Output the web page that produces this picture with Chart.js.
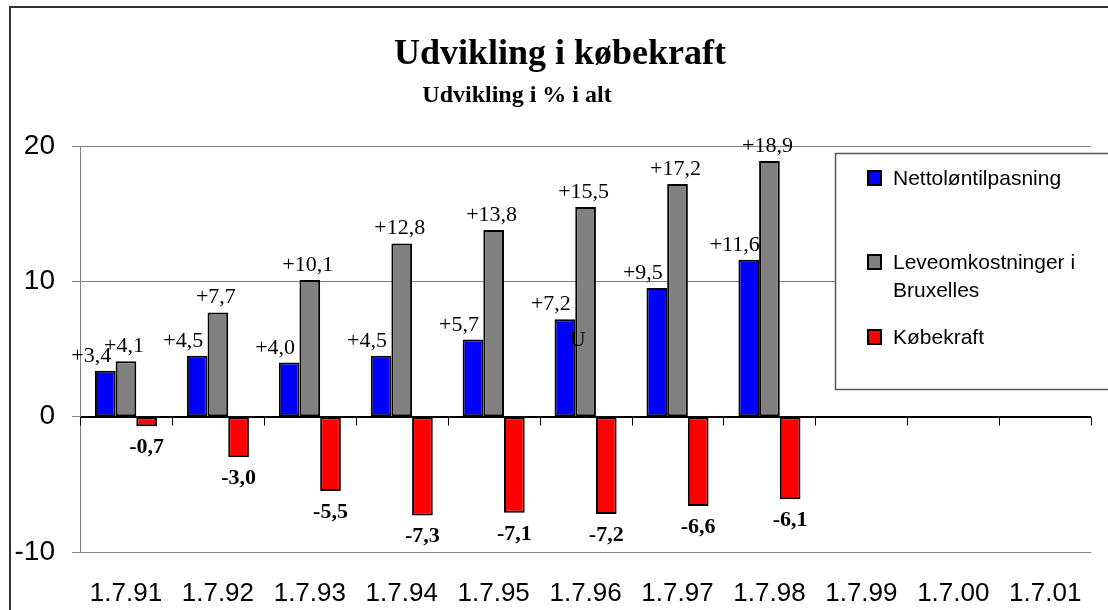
<!DOCTYPE html>
<html>
<head>
<meta charset="utf-8">
<title>Udvikling i købekraft</title>
<script src="https://cdn.jsdelivr.net/npm/chart.js@4.4.1/dist/chart.umd.min.js"></script>
<style>
  html, body { margin: 0; padding: 0; background: #fff; overflow: hidden; }
  #wrap { width: 1108px; height: 610px; }
</style>
</head>
<body>
<div id="wrap"><canvas id="graf" width="1108" height="610"></canvas></div>
<script>
// data
const kategorier = ['1.7.91', '1.7.92', '1.7.93', '1.7.94', '1.7.95', '1.7.96', '1.7.97', '1.7.98', '1.7.99', '1.7.00', '1.7.01'];
const nettolon = [3.4, 4.5, 4.0, 4.5, 5.7, 7.2, 9.5, 11.6, null, null, null];
const leveomk = [4.1, 7.7, 10.1, 12.8, 13.8, 15.5, 17.2, 18.9, null, null, null];
const kobekraft = [-0.7, -3.0, -5.5, -7.3, -7.1, -7.2, -6.6, -6.1, null, null, null];
const serieNavne = ['Nettoløntilpasning', 'Leveomkostninger i Bruxelles', 'Købekraft'];
const yMin = -10, yMax = 20, yStep = 10;
const titel = 'Udvikling i købekraft';
const undertitel = 'Udvikling i % i alt';
const loesMaerke = { kategori: '1.7.96', vaerdi: 5.8, tekst: 'U' };

const SANS = '"Liberation Sans", Arial, sans-serif';
const SERIF = '"Liberation Serif", "Times New Roman", serif';

function fmt(v) {
    const s = Math.abs(v).toFixed(1).replace('.', ',');
    return (v < 0 ? '-' : '+') + s;
}

// titel + ramme
const rammePlugin = {
    id: 'ramme',
    afterDraw(chart) {
        const ctx = chart.ctx;
        ctx.save();
        ctx.strokeStyle = '#333';
        ctx.lineWidth = 2;
        ctx.strokeRect(10, 7, 1120, 640);
        ctx.fillStyle = '#000';
        ctx.textAlign = 'center';
        ctx.textBaseline = 'alphabetic';
        ctx.font = 'bold 36px ' + SERIF;
        ctx.fillText(titel, 560, 64);
        ctx.font = 'bold 24px ' + SERIF;
        ctx.fillText(undertitel, 517, 102);
        ctx.restore();
    }
};

// små streger under 0-linjen ved kategorigrænser
const akseStreger = {
    id: 'akseStreger',
    afterDatasetsDraw(chart) {
        const x = chart.scales.x, y = chart.scales.y;
        const ctx = chart.ctx;
        const y0 = Math.round(y.getPixelForValue(0)) + 0.5;
        const bredde = x.width / kategorier.length;
        ctx.save();
        ctx.strokeStyle = '#000';
        ctx.lineWidth = 1;
        ctx.beginPath();
        ctx.moveTo(x.left, y0);
        ctx.lineTo(x.right, y0);
        for (let i = 0; i <= kategorier.length; i++) {
            const px = Math.round(x.left + i * bredde) + 0.5;
            ctx.moveTo(px, y0);
            ctx.lineTo(px, y0 + 8);
        }
        ctx.stroke();
        ctx.restore();
    }
};

// værdietiketter
const etiketter = {
    id: 'etiketter',
    afterDatasetsDraw(chart) {
        const ctx = chart.ctx;
        ctx.save();
        ctx.fillStyle = '#000';
        ctx.textAlign = 'center';
        ctx.textBaseline = 'alphabetic';
        chart.data.datasets.forEach((ds, di) => {
            const meta = chart.getDatasetMeta(di);
            ctx.font = (ds.labelBold ? 'bold ' : '') + '22px ' + SERIF;
            meta.data.forEach((el, i) => {
                const v = ds.data[i];
                if (v === null || v === undefined) return;
                const px = el.x + (ds.labelDx || 0);
                const py = v >= 0 ? el.y - 9 : el.y + 27;
                ctx.fillText(fmt(v), px, py);
            });
        });
        // løst tegn fra originalen
        const xs = chart.scales.x, ys = chart.scales.y;
        ctx.font = '22px ' + SERIF;
        ctx.fillText(loesMaerke.tekst, xs.getPixelForValue(kategorier.indexOf(loesMaerke.kategori)) - 8,
            ys.getPixelForValue(loesMaerke.vaerdi) + 8);
        ctx.restore();
    }
};

// forklaring i boks
const forklaring = {
    id: 'forklaring',
    afterDraw(chart) {
        const ctx = chart.ctx;
        const boksX = 835.5, boksY = 153.5;
        ctx.save();
        ctx.fillStyle = '#fff';
        ctx.fillRect(boksX, boksY, 300, 236);
        ctx.strokeStyle = '#555';
        ctx.lineWidth = 1.5;
        ctx.strokeRect(boksX, boksY, 300, 236);

        const linjeY = [178, 262, 337];
        ctx.font = '21px ' + SANS;
        ctx.textBaseline = 'middle';
        ctx.textAlign = 'left';
        chart.data.datasets.forEach((ds, i) => {
            const y = linjeY[i];
            ctx.fillStyle = ds.backgroundColor;
            ctx.fillRect(868, y - 7, 13, 14);
            ctx.strokeStyle = '#000';
            ctx.lineWidth = 2;
            ctx.strokeRect(868, y - 7, 13, 14);
            // ombryd teksten
            const ord = ds.label.split(' ');
            const linjer = [];
            let cur = '';
            ord.forEach(w => {
                const test = cur ? cur + ' ' + w : w;
                if (ctx.measureText(test).width > 195 && cur) {
                    linjer.push(cur);
                    cur = w;
                } else {
                    cur = test;
                }
            });
            linjer.push(cur);
            ctx.fillStyle = '#000';
            linjer.forEach((l, k) => ctx.fillText(l, 893, y + 1 + k * 28));
        });
        ctx.restore();
    }
};

const ctx = document.getElementById('graf').getContext('2d');
const chart = new Chart(ctx, {
    type: 'bar',
    data: {
        labels: kategorier,
        datasets: [
            { label: serieNavne[0], data: nettolon, backgroundColor: '#0000FF', labelDx: -14 },
            { label: serieNavne[1], data: leveomk, backgroundColor: '#808080', labelDx: -2 },
            { label: serieNavne[2], data: kobekraft, backgroundColor: '#FF0000', labelDx: 0, labelBold: true }
        ]
    },
    options: {
        responsive: false,
        animation: false,
        devicePixelRatio: 1,
        layout: { padding: { top: 146, right: 14, left: 0, bottom: 0 } },
        datasets: {
            bar: {
                borderColor: '#000',
                borderWidth: 2,
                borderSkipped: false,
                categoryPercentage: 0.675,
                barPercentage: 1.0
            }
        },
        plugins: {
            legend: { display: false },
            title: { display: false },
            tooltip: { enabled: false }
        },
        scales: {
            x: {
                grid: { display: false, drawTicks: false },
                border: { display: false },
                ticks: {
                    color: '#000',
                    font: { family: SANS, size: 26 },
                    padding: 26,
                    maxRotation: 0,
                    autoSkip: false
                },
                afterFit(s) { s.height = 58; }
            },
            y: {
                min: yMin,
                max: yMax,
                ticks: {
                    stepSize: yStep,
                    color: '#000',
                    font: { family: SANS, size: 28 },
                    padding: 17
                },
                grid: {
                    color: c => (c.tick && c.tick.value === 0 ? '#000' : '#808080'),
                    tickColor: '#808080',
                    tickLength: 8,
                    lineWidth: 1
                },
                border: { color: '#808080' },
                afterFit(s) { s.width = 80; }
            }
        }
    },
    plugins: [rammePlugin, akseStreger, etiketter, forklaring]
});
</script>
</body>
</html>
